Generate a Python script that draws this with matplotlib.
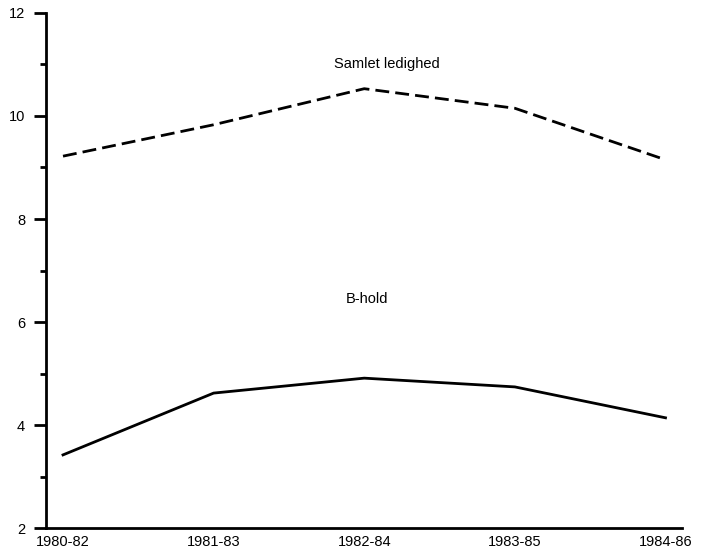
import matplotlib
matplotlib.use('Agg')
import matplotlib.pyplot as plt
from matplotlib.ticker import MultipleLocator

# Data
periods = ['1980-82', '1981-83', '1982-84', '1983-85', '1984-86']
samlet = [9.22, 9.83, 10.53, 10.15, 9.15]
bhold = [3.42, 4.62, 4.91, 4.74, 4.14]

plt.rcParams['font.family'] = ['Liberation Sans', 'DejaVu Sans']

fig = plt.figure(figsize=(7.01, 5.55), dpi=100)
ax = fig.add_axes([0.0656, 0.0486, 0.9074, 0.928])

x = range(len(periods))
ax.plot(x, samlet, color='black', linestyle=(0, (5, 2.2)), linewidth=2.0)
ax.plot(x, bhold, color='black', linestyle='-', linewidth=2.0)

ax.text(2.15, 11.0, 'Samlet ledighed', ha='center', va='center', fontsize=10.5)
ax.text(2.02, 6.45, 'B-hold', ha='center', va='center', fontsize=10.5)

ax.set_xlim(-0.113, 4.11)
ax.set_ylim(2, 12)
ax.set_xticks(list(x))
ax.set_xticklabels(periods, fontsize=10.5)
ax.yaxis.set_major_locator(MultipleLocator(2))
ax.yaxis.set_minor_locator(MultipleLocator(1))
ax.tick_params(axis='y', which='major', length=9, width=2, labelsize=10.5, pad=6)
ax.tick_params(axis='y', which='minor', length=4, width=2)
ax.tick_params(axis='x', length=0, pad=5)

for side in ['top', 'right']:
    ax.spines[side].set_visible(False)
for side in ['left', 'bottom']:
    ax.spines[side].set_linewidth(2)

fig.savefig('out.png', dpi=100)
